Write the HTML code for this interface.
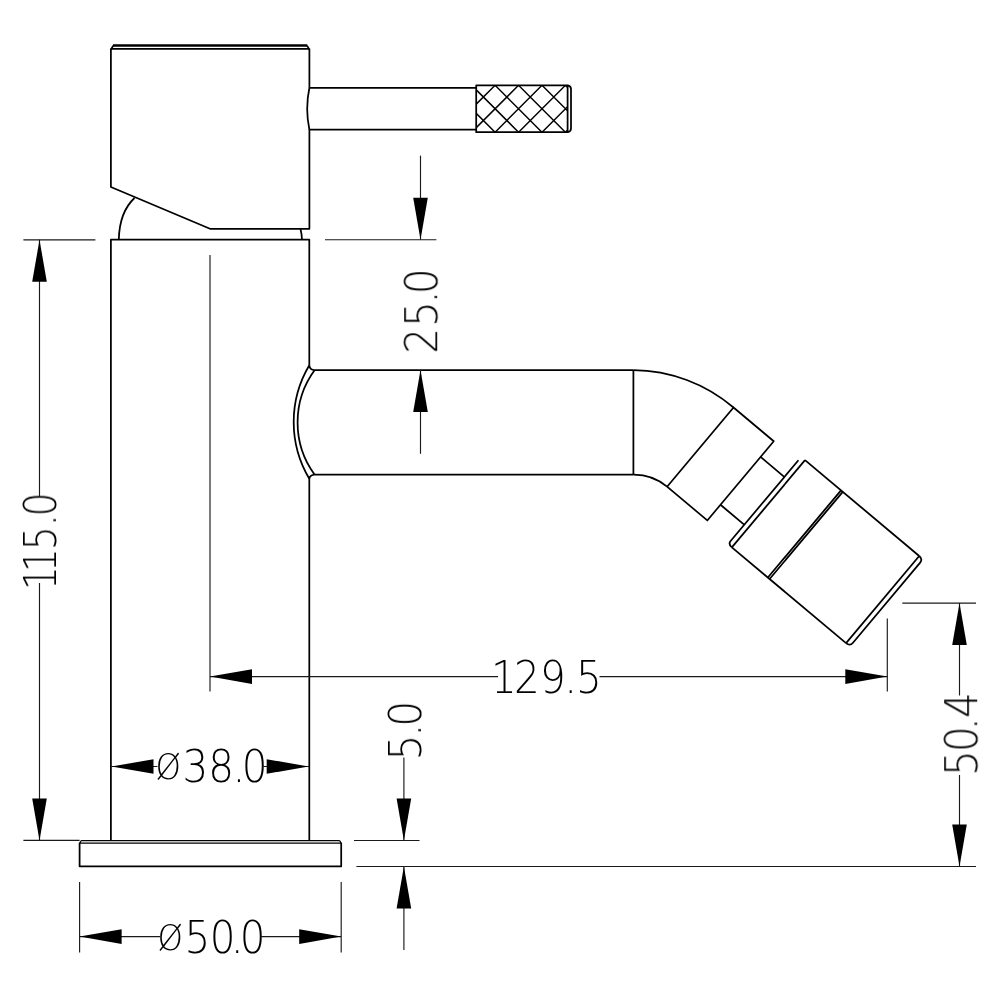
<!DOCTYPE html>
<html lang="en"><head><meta charset="utf-8"><title>Bidet mixer tap - technical drawing</title>
<style>
html,body{margin:0;padding:0;background:#fff;}
body{width:1000px;height:1000px;overflow:hidden;}
svg{display:block;}
.m{fill:none;stroke:#000;stroke-width:1.75;stroke-linecap:butt;stroke-linejoin:round;}
.m2{fill:none;stroke:#000;stroke-width:2.5;}
.m3{fill:none;stroke:#000;stroke-width:1.25;}
.t{fill:none;stroke:#1a1a1a;stroke-width:1.15;}
.a{fill:#000;stroke:none;}
.d{font-family:"DejaVu Sans Light","DejaVu Sans","Liberation Sans",sans-serif;font-weight:200;font-size:44.05px;fill:#000;stroke:none;}
</style></head>
<body>
<svg width="1000" height="1000" viewBox="0 0 1000 1000" role="img" aria-label="Dimensioned side view of a bidet mixer tap">
<rect width="1000" height="1000" fill="#fff"/>
<g id="dim-text" style="opacity:.999">
<text class="d" transform="translate(0,692.90) scale(0.920,1)" x="533.75 558.78 587.06 613.34 626.16">129.5</text>
<text class="d" transform="translate(0,782.30) scale(0.920,1)"><tspan x="168.92" dy="-3.54" font-size="35.2">Ø</tspan><tspan dy="3.54" x="198.25 226.32 252.79 262.69">38.0</tspan></text>
<text class="d" transform="translate(0,953.20) scale(0.920,1)"><tspan x="171.10" dy="-3.54" font-size="35.2">Ø</tspan><tspan dy="3.54" x="200.61 227.91 250.84 260.52">50.0</tspan></text>
<text class="d" transform="translate(56.00,0) rotate(-90) scale(0.856,1)" x="-689.41 -668.26 -642.65 -614.75 -603.35">115.0</text>
<text class="d" transform="translate(437.20,0) rotate(-90) scale(0.920,1)" x="-384.37 -355.47 -329.82 -319.92">25.0</text>
<text class="d" transform="translate(421.00,0) rotate(-90) scale(0.920,1)" x="-826.56 -800.69 -789.70">5.0</text>
<text class="d" transform="translate(977.20,0) rotate(-90) scale(0.920,1)" x="-843.52 -817.31 -793.73 -780.55">50.4</text>
</g>
<g id="drawing">
<path class="m2" d="M113,45.4 H307.3"/>
<path class="m" d="M110.9,49.6 L113.2,45.6 M307.1,45.6 L309.4,49.6 M110.9,48.95 H309.4"/>
<path class="m" d="M110.9,48.5 V187 L210,228.8 H309.4 V129.6 M309.4,87.8 V48.5"/>
<path class="m" d="M118.8,239.5 Q119.5,212 134.5,198"/>
<path class="m" d="M300.5,229 Q301.8,234 302,239.5"/>
<path class="m" d="M309.4,87.8 H476.2 M309.4,129.7 H476.2"/>
<path class="m" d="M309.4,87.8 Q305,108.7 309.4,129.7"/>
<clipPath id="kc"><rect x="476.2" y="85.3" width="91.4" height="46.9"/></clipPath>
<path class="m" style="stroke-width:1.45" clip-path="url(#kc)" d="M448.20,85.3 l47.1,47.1 M448.20,85.3 l-47.1,47.1 M471.65,85.3 l47.1,47.1 M471.65,85.3 l-47.1,47.1 M495.10,85.3 l47.1,47.1 M495.10,85.3 l-47.1,47.1 M518.55,85.3 l47.1,47.1 M518.55,85.3 l-47.1,47.1 M542.00,85.3 l47.1,47.1 M542.00,85.3 l-47.1,47.1 M565.45,85.3 l47.1,47.1 M565.45,85.3 l-47.1,47.1 M588.90,85.3 l47.1,47.1 M588.90,85.3 l-47.1,47.1 M612.35,85.3 l47.1,47.1 M612.35,85.3 l-47.1,47.1"/>
<path class="m" d="M476.2,85.3 H567.6 V132.2 H476.2 Z"/>
<path class="m" d="M567.6,85.3 Q571,85.8 571,89 V128.5 Q571,131.7 567.6,132.2"/>
<path class="m" d="M110.9,840.6 V239.6 H309.3 V365.3"/>
<path class="m" d="M309.3,478.8 V840.6"/>
<path class="m" d="M309.3,365.3 A111,111 0 0 0 309.3,478.8"/>
<path class="m" d="M314.7,370.1 A88.5,88.5 0 0 0 314.7,474.7"/>
<path class="m" d="M309.3,365.3 Q309.8,369.8 314.7,370.1 M309.3,478.8 Q309.8,475 314.7,474.7"/>
<path class="m" d="M314.7,370.1 H633.4 M314.7,474.7 H633.4 M633.4,370.1 V474.7"/>
<path class="m" d="M633.4,370.1 A156.3,156.3 0 0 1 733.53,407.50"/>
<path class="m" d="M633.4,474.7 A52,52 0 0 1 667.07,486.70"/>
<path class="m" d="M667.07,486.70 L733.53,407.50 L773.75,441.24 L707.29,520.45 L667.07,486.70"/>
<path class="m" d="M760.57,456.95 L784.24,476.81 M720.46,504.75 L744.13,524.61"/>
<path class="m" d="M798.41,460.24 L730.59,541.05 Q728.02,544.12 731.85,547.33"/>
<path class="m" d="M805.00,460.16 L731.85,547.33"/>
<path class="m" d="M805.00,460.16 L919.22,556.00"/>
<path class="m" d="M731.85,547.33 L846.07,643.17"/>
<path class="m" d="M841.01,490.37 L767.86,577.54 M842.77,491.85 L769.62,579.02"/>
<path class="m" d="M919.22,556.00 L846.07,643.17"/>
<path class="m" d="M919.22,556.00 Q923.05,559.21 919.97,562.89 L852.99,642.71 Q849.90,646.39 846.07,643.17"/>
<path class="m3" d="M81.3,840.5 H339.5 M79.6,843.2 L81.3,840.5 M339.5,840.5 L341.2,843.2 M79.6,843.2 H341.2"/>
<path class="m" d="M79.6,842.8 V866.3 H341.2 V842.8"/>
<line class="t" x1="23.40" y1="239.80" x2="95.40" y2="239.80"/>
<line class="t" x1="23.40" y1="840.40" x2="79.60" y2="840.40"/>
<line class="t" x1="39.50" y1="239.80" x2="39.50" y2="497.00"/>
<line class="t" x1="39.50" y1="583.00" x2="39.50" y2="840.40"/>
<polygon class="a" points="39.50,239.80 32.20,281.80 46.80,281.80"/>
<polygon class="a" points="39.50,840.40 32.20,798.40 46.80,798.40"/>
<line class="t" x1="325.00" y1="239.70" x2="436.40" y2="239.70"/>
<line class="t" x1="420.50" y1="155.60" x2="420.50" y2="239.70"/>
<polygon class="a" points="420.50,239.70 413.20,197.70 427.80,197.70"/>
<line class="t" x1="420.50" y1="370.00" x2="420.50" y2="453.80"/>
<polygon class="a" points="420.50,370.00 413.20,412.00 427.80,412.00"/>
<line class="t" x1="210.00" y1="255.00" x2="210.00" y2="691.50"/>
<line class="t" x1="887.30" y1="618.40" x2="887.30" y2="691.60"/>
<line class="t" x1="210.00" y1="676.60" x2="498.00" y2="676.60"/>
<line class="t" x1="599.50" y1="676.60" x2="887.30" y2="676.60"/>
<polygon class="a" points="210.00,676.60 252.00,669.30 252.00,683.90"/>
<polygon class="a" points="887.30,676.60 845.30,669.30 845.30,683.90"/>
<line class="t" x1="111.00" y1="766.50" x2="157.50" y2="766.50"/>
<line class="t" x1="262.00" y1="766.50" x2="309.00" y2="766.50"/>
<polygon class="a" points="111.50,766.50 153.50,759.20 153.50,773.80"/>
<polygon class="a" points="308.70,766.50 266.70,759.20 266.70,773.80"/>
<line class="t" x1="79.60" y1="882.00" x2="79.60" y2="952.50"/>
<line class="t" x1="341.20" y1="882.00" x2="341.20" y2="952.50"/>
<line class="t" x1="79.60" y1="936.60" x2="160.00" y2="936.60"/>
<line class="t" x1="260.60" y1="936.60" x2="341.20" y2="936.60"/>
<polygon class="a" points="79.60,936.60 121.60,929.30 121.60,943.90"/>
<polygon class="a" points="341.20,936.60 299.20,929.30 299.20,943.90"/>
<line class="t" x1="354.00" y1="840.50" x2="419.50" y2="840.50"/>
<line class="t" x1="356.40" y1="866.50" x2="976.00" y2="866.50"/>
<line class="t" x1="403.90" y1="757.40" x2="403.90" y2="840.50"/>
<polygon class="a" points="403.90,840.50 396.60,798.50 411.20,798.50"/>
<line class="t" x1="403.90" y1="866.50" x2="403.90" y2="950.00"/>
<polygon class="a" points="403.90,866.50 396.60,908.50 411.20,908.50"/>
<line class="t" x1="902.30" y1="603.10" x2="976.00" y2="603.10"/>
<line class="t" x1="959.50" y1="603.10" x2="959.50" y2="695.50"/>
<line class="t" x1="959.50" y1="775.00" x2="959.50" y2="866.50"/>
<polygon class="a" points="959.50,603.10 952.20,645.10 966.80,645.10"/>
<polygon class="a" points="959.50,866.50 952.20,824.50 966.80,824.50"/>
</g>
</svg>
</body></html>
